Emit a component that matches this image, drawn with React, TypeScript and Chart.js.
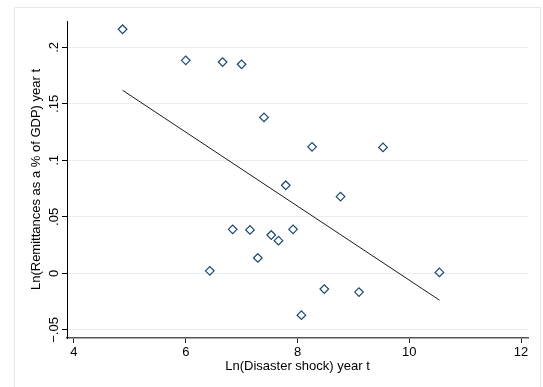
import React, { useEffect, useRef } from "react";
import { Chart, registerables } from "chart.js";

Chart.register(...registerables);

// Scatter points: Ln(Disaster shock) vs Ln(Remittances as % of GDP)
const disasterShock = [4.87, 6.0, 6.66, 7.0, 7.4, 8.26, 9.53, 7.79, 8.77, 6.84, 7.15, 7.53, 7.66, 7.92, 7.29, 6.43, 8.48, 9.1, 8.07, 10.54];
const remittances = [0.216, 0.1885, 0.187, 0.185, 0.138, 0.112, 0.1115, 0.078, 0.068, 0.039, 0.0385, 0.034, 0.029, 0.039, 0.0137, 0.0023, -0.0138, -0.0165, -0.0369, 0.0009];

// Fitted line end points
const fitX = [4.87, 10.54];
const fitY = [0.162, -0.0236];

// Ticks
const xTickValues = [4, 6, 8, 10, 12];
const xTickLabels = ["4", "6", "8", "10", "12"];
const yTickValues = [-0.05, 0, 0.05, 0.1, 0.15, 0.2];
const yTickLabels = ["\u2212.05", "0", ".05", ".1", ".15", ".2"];

const xTitle = "Ln(Disaster shock) year t";
const yTitle = "Ln(Remittances as a % of GDP) year t";

const FONT = { family: "'Liberation Sans', Arial, Helvetica, sans-serif", size: 13 };

const framePlugin = {
  id: "frame",
  beforeDraw(chart: any) {
    const c = chart.ctx;
    c.save();
    c.fillStyle = "#ffffff";
    c.fillRect(0, 0, chart.width, chart.height);
    c.strokeStyle = "#e2eaed";
    c.lineWidth = 1;
    c.strokeRect(14.5, 7.5, 526, 420);
    c.restore();
  },
};

export default function App() {
  const ref = useRef<HTMLCanvasElement | null>(null);

  useEffect(() => {
    document.body.style.margin = "0";
    if (!ref.current) return;
    const chart = new Chart(ref.current, {
      type: "scatter",
      data: {
        datasets: [
          {
            type: "scatter",
            data: disasterShock.map((x, i) => ({ x, y: remittances[i] })),
            pointStyle: "rectRot",
            pointRadius: 4.3,
            borderColor: "#1a476f",
            borderWidth: 1.2,
            backgroundColor: "rgba(0,0,0,0)",
          } as any,
          {
            type: "line",
            data: fitX.map((x, i) => ({ x, y: fitY[i] })),
            borderColor: "#1a1a1a",
            borderWidth: 1,
            pointRadius: 0,
            fill: false,
          } as any,
        ],
      },
      options: {
        responsive: false,
        animation: false,
        devicePixelRatio: 1,
        layout: { padding: { left: 0, top: 21, right: 15, bottom: 0 } },
        plugins: { legend: { display: false }, tooltip: { enabled: false } },
        scales: {
          x: {
            type: "linear",
            min: 3.875,
            max: 12.125,
            afterBuildTicks: (s: any) => {
              s.ticks = xTickValues.map((v) => ({ value: v }));
            },
            afterFit: (s: any) => {
              s.height = 49;
            },
            ticks: {
              font: FONT,
              color: "#000",
              padding: 2,
              maxRotation: 0,
              autoSkip: false,
              callback: (_v: any, i: number) => xTickLabels[i],
            },
            grid: { drawOnChartArea: false, drawTicks: true, tickLength: 5, tickColor: "#222", tickWidth: 1 },
            border: { color: "#555", width: 1.5 },
            title: { display: true, text: xTitle, font: FONT, color: "#000", padding: { top: 0, bottom: 13 } },
          },
          y: {
            type: "linear",
            min: -0.0571,
            max: 0.2233,
            afterBuildTicks: (s: any) => {
              s.ticks = yTickValues.map((v) => ({ value: v }));
            },
            afterFit: (s: any) => {
              s.width = 67;
            },
            ticks: {
              font: FONT,
              color: "#000",
              padding: -5,
              minRotation: 90,
              maxRotation: 90,
              crossAlign: "center",
              autoSkip: false,
              callback: (_v: any, i: number) => yTickLabels[i],
            },
            grid: { color: "#e6eef0", lineWidth: 1, drawTicks: true, tickLength: 5, tickColor: "#000", tickWidth: 1 },
            border: { color: "#000", width: 1 },
            title: { display: true, text: yTitle, font: FONT, color: "#000", padding: { top: 29, bottom: 0 } },
          },
        },
      } as any,
      plugins: [framePlugin],
    });
    return () => chart.destroy();
  }, []);

  return (
    <div style={{ width: 543, height: 387 }}>
      <canvas ref={ref} width={543} height={387} style={{ display: "block" }} />
    </div>
  );
}
